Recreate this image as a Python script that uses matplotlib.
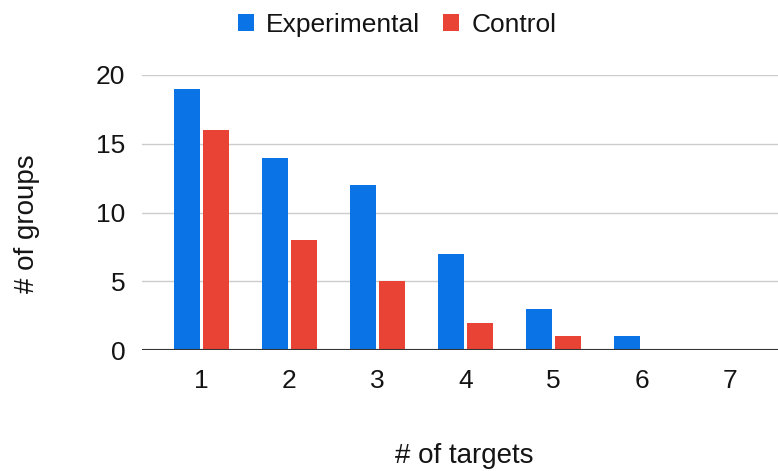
import matplotlib
matplotlib.use("Agg")
import matplotlib.pyplot as plt
import numpy as np

# number of targets per group, and how many groups hit each count
targets = [1, 2, 3, 4, 5, 6, 7]
experimental = [19, 14, 12, 7, 3, 1, 0]
control = [16, 8, 5, 2, 1, 0, 0]

BLUE = "#0a73e6"
RED = "#e94335"
INK = "#141414"

plt.rcParams['font.family'] = ['Liberation Sans', 'DejaVu Sans']

fig = plt.figure(figsize=(7.78, 4.71), dpi=100)
ax = fig.add_axes([142 / 778, 1 - 350 / 471, 1 - 142 / 778, 275 / 471])

x = np.arange(len(targets)) + 1
w = 0.294
gap = 0.034
ax.bar(x - (w + gap) / 2, experimental, w, color=BLUE, label="Experimental", zorder=3)
ax.bar(x + (w + gap) / 2, control, w, color=RED, label="Control", zorder=3)

ax.set_xlim(1 - 0.674, 7 + 0.55)
ax.set_ylim(0, 20)
ax.set_yticks([0, 5, 10, 15, 20])
ax.set_xticks(x)
ax.set_xticklabels([str(t) for t in targets])

ax.yaxis.grid(True, color="#cccccc", linewidth=1, zorder=0)
ax.axhline(0, color="#333333", linewidth=1.5, zorder=4)
for s in ax.spines.values():
    s.set_visible(False)
ax.tick_params(axis='both', length=0, labelsize=19, colors=INK)
ax.tick_params(axis='y', pad=12)
ax.tick_params(axis='x', pad=14)

fig.text(27 / 778, 1 - 224 / 471, "# of groups", rotation=90, ha='center', va='center',
         fontsize=20, color=INK)
fig.text(464 / 778, 1 - 463 / 471, "# of targets", ha='center', va='baseline',
         fontsize=20, color=INK)

fig.legend(loc='center', bbox_to_anchor=(397 / 778, 1 - 25 / 471), ncol=2, frameon=False,
           fontsize=19, handlelength=0.6, handleheight=0.6, handletextpad=0.47,
           columnspacing=0.87, labelcolor=INK)

fig.savefig("out.png", dpi=100)
